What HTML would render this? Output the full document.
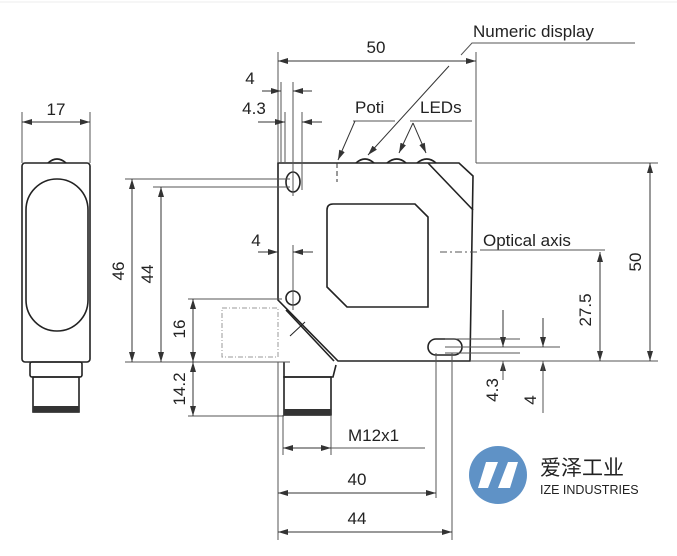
<!DOCTYPE html>
<html><head><meta charset="utf-8"><style>
html,body{margin:0;padding:0;background:#fff}
svg{display:block}
text{font-family:"Liberation Sans","Noto Sans CJK SC",sans-serif;fill:#222}
</style></head><body>
<svg width="677" height="556" viewBox="0 0 677 556" xmlns="http://www.w3.org/2000/svg">
<defs>
<marker id="a" viewBox="0 0 10 6" refX="10" refY="3" markerWidth="10" markerHeight="6" orient="auto-start-reverse" markerUnits="userSpaceOnUse"><path d="M0,0 L10,3 L0,6 Z" fill="#333"/></marker>
</defs>
<line x1="0" y1="2" x2="677" y2="2" stroke="#eee"/>
<g fill="none" stroke="#222" stroke-width="1.6">
<!-- left view -->
<rect x="22" y="163" width="68" height="199" rx="3"/>
<path d="M48,163 Q57,155 66,163"/>
<rect x="26" y="179" width="62" height="152" rx="31"/>
<rect x="30" y="362" width="52" height="15" rx="2"/>
<rect x="33" y="377" width="46" height="35"/>
<!-- main body -->
<path d="M278,163 L459,163 L473,176 L470,361 L338,361 L278,300 Z"/>
<line x1="428" y1="163" x2="473" y2="210"/>
<path d="M286,310 L334,361"/>
<path d="M327,210 Q327,204 333,204 L415,204 L428,217 L428,307 L347,307 L327,287 Z"/>
<ellipse cx="293" cy="182" rx="7" ry="10"/>
<circle cx="293" cy="298" r="7"/>
<rect x="428" y="339" width="34" height="16" rx="8"/>
<path d="M356,163 Q365,155 374,163 M387,163 Q397,155 406,163 M417,163 Q427,155 436,163"/>
<path d="M284,362 L284,377 L333,377 L336,365"/>
<rect x="284" y="377" width="47" height="38"/>
<line x1="290" y1="336" x2="305" y2="322" stroke-width="1"/>
</g>
<rect x="33" y="406" width="46" height="6" fill="#333"/>
<rect x="284" y="409" width="47" height="6" fill="#333"/>
<rect x="222" y="308" width="56" height="49" fill="none" stroke="#999" stroke-dasharray="5,2,1,2"/>
<line x1="337" y1="163" x2="337" y2="182" stroke="#333" stroke-dasharray="5,3"/>
<g stroke="#555" stroke-width="1" fill="none">
<!-- extension lines -->
<line x1="22" y1="112" x2="22" y2="163"/><line x1="90" y1="112" x2="90" y2="163"/>
<line x1="278" y1="52" x2="278" y2="163"/><line x1="476" y1="52" x2="476" y2="163"/>
<line x1="281" y1="82" x2="281" y2="163"/><line x1="293" y1="82" x2="293" y2="196"/>
<line x1="285" y1="112" x2="285" y2="163"/><line x1="302" y1="112" x2="302" y2="190"/>
<line x1="293" y1="245" x2="293" y2="310"/>
<line x1="125" y1="179" x2="290" y2="179"/><line x1="153" y1="187" x2="290" y2="187"/>
<line x1="125" y1="362" x2="290" y2="362"/><line x1="188" y1="299" x2="282" y2="299"/>
<line x1="188" y1="416" x2="284" y2="416"/>
<line x1="476" y1="163" x2="658" y2="163"/><line x1="470" y1="361" x2="658" y2="361"/>
<line x1="445" y1="339" x2="520" y2="339"/><line x1="445" y1="347" x2="560" y2="347"/><line x1="445" y1="353" x2="520" y2="353"/>
<line x1="283" y1="415" x2="283" y2="455"/><line x1="331" y1="415" x2="331" y2="455"/>
<line x1="278" y1="362" x2="278" y2="540"/><line x1="436" y1="353" x2="436" y2="498"/><line x1="452" y1="353" x2="452" y2="540"/>
<!-- leaders -->
<path d="M635,43 L472,43 L461,55"/>
<path d="M353,121 L395,121"/><path d="M410,121 L472,121"/>
<path d="M480,250 L605,250"/>
<path d="M425,448 L331,448"/>
</g>
<g stroke="#333" stroke-width="1" fill="none" marker-end="url(#a)">
<line x1="449" y1="66" x2="368" y2="155"/>
<line x1="355" y1="121" x2="338" y2="160"/>
<line x1="413" y1="123" x2="399" y2="153"/>
<line x1="413" y1="123" x2="426" y2="153"/>
</g>
<g stroke="#333" stroke-width="1" fill="none" marker-start="url(#a)" marker-end="url(#a)">
<line x1="22" y1="122" x2="90" y2="122"/>
<line x1="278" y1="61" x2="476" y2="61"/>
<line x1="132" y1="179" x2="132" y2="362"/>
<line x1="161" y1="187" x2="161" y2="362"/>
<line x1="193" y1="299" x2="193" y2="362"/>
<line x1="193" y1="362" x2="193" y2="416"/>
<line x1="650" y1="163" x2="650" y2="361"/>
<line x1="600" y1="252" x2="600" y2="361"/>
<line x1="283" y1="448" x2="331" y2="448"/>
<line x1="278" y1="493" x2="436" y2="493"/>
<line x1="278" y1="532" x2="452" y2="532"/>
</g>
<g stroke="#333" stroke-width="1" fill="none" marker-end="url(#a)">
<line x1="262" y1="91" x2="281" y2="91"/><line x1="312" y1="91" x2="293" y2="91"/>
<line x1="258" y1="122" x2="285" y2="122"/><line x1="322" y1="122" x2="302" y2="122"/>
<line x1="258" y1="252" x2="278" y2="252"/><line x1="313" y1="252" x2="293" y2="252"/>
<line x1="503" y1="310" x2="503" y2="347"/><line x1="503" y1="380" x2="503" y2="361"/>
<line x1="543" y1="318" x2="543" y2="347"/><line x1="543" y1="410" x2="543" y2="361"/>
</g>
<line x1="503" y1="361" x2="503" y2="380" stroke="#555"/>
<line x1="543" y1="361" x2="543" y2="413" stroke="#555"/>
<line x1="440" y1="252" x2="478" y2="252" stroke="#555" stroke-dasharray="7,3,2,3"/>
<g font-size="17">
<text x="56" y="115" text-anchor="middle">17</text>
<text x="376" y="53" text-anchor="middle">50</text>
<text x="250" y="84" text-anchor="middle">4</text>
<text x="254" y="114" text-anchor="middle">4.3</text>
<text x="256" y="246" text-anchor="middle">4</text>
<text x="473" y="37">Numeric display</text>
<text x="355" y="113">Poti</text>
<text x="420" y="113">LEDs</text>
<text x="483" y="246">Optical axis</text>
<text x="348" y="441">M12x1</text>
<text x="357" y="485" text-anchor="middle">40</text>
<text x="357" y="524" text-anchor="middle">44</text>
<text transform="translate(124,271) rotate(-90)" text-anchor="middle">46</text>
<text transform="translate(153,274) rotate(-90)" text-anchor="middle">44</text>
<text transform="translate(185,329) rotate(-90)" text-anchor="middle">16</text>
<text transform="translate(185,389) rotate(-90)" text-anchor="middle">14.2</text>
<text transform="translate(641,262) rotate(-90)" text-anchor="middle">50</text>
<text transform="translate(591,310) rotate(-90)" text-anchor="middle">27.5</text>
<text transform="translate(498,390) rotate(-90)" text-anchor="middle">4.3</text>
<text transform="translate(536,400) rotate(-90)" text-anchor="middle">4</text>
</g>
<circle cx="498" cy="475" r="29" fill="#5f92c6"/>
<path d="M486,462 L498,462 L488,488 L478,488 Z M508,462 L518,462 L510,488 L498,488 Z" fill="#fff"/>
<text x="540" y="475" font-size="21" fill="#333">爱泽工业</text>
<text x="540" y="494" font-size="12.5" fill="#555">IZE INDUSTRIES</text>
</svg>
</body></html>
